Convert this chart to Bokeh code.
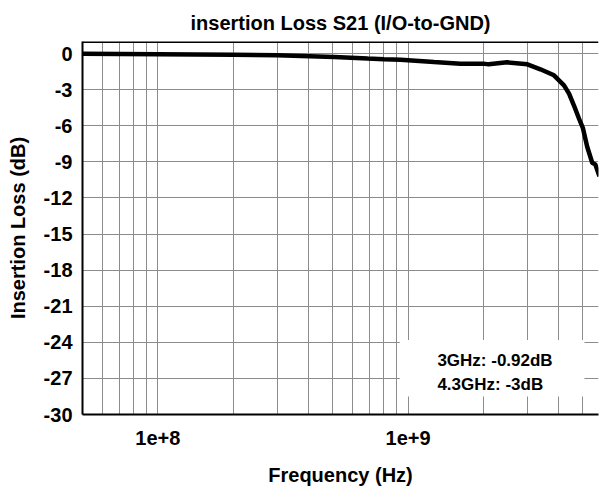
from bokeh.plotting import figure
from bokeh.models import FixedTicker, CustomJSTickFormatter, Span, BoxAnnotation, Label
from bokeh.embed import file_html
from bokeh.resources import INLINE

# ---- data ----
freq_hz = [5e7, 1e8, 2e8, 3e8, 5.07e8, 6.9e8, 8.0e8, 9.35e8, 1.0e9, 1.27e9, 1.62e9,
           2.0e9, 2.1e9, 2.49e9, 3.0e9, 3.38e9, 3.83e9, 4.2e9, 4.4e9, 4.6e9, 4.82e9,
           5.0e9, 5.2e9, 5.45e9, 5.6e9, 5.82e9]
loss_db = [-0.02, -0.05, -0.10, -0.15, -0.29, -0.42, -0.48, -0.51, -0.55, -0.70, -0.84,
           -0.84, -0.90, -0.73, -0.90, -1.31, -1.81, -2.64, -3.33, -4.3, -5.4,
           -6.2, -7.75, -9.1, -9.2, -10.2]
y_ticks = [-30, -27, -24, -21, -18, -15, -12, -9, -6, -3, 0]
x_major = [1e8, 1e9]
x_minor = [6e7, 7e7, 8e7, 9e7, 2e8, 3e8, 4e8, 5e8, 6e8, 7e8, 8e8, 9e8,
           2e9, 3e9, 4e9, 5e9]
note_lines = ["3GHz: -0.92dB", "4.3GHz: -3dB"]

FONT = "Liberation Sans"

p = figure(width=599, height=488, x_axis_type="log",
           x_range=(5e7, 5.77e9), y_range=(-30, 1),
           output_backend="svg", toolbar_location=None,
           title="insertion Loss S21 (I/O-to-GND)",
           min_border_left=82, min_border_right=1,
           min_border_top=41, min_border_bottom=73)

p.title.align = "center"
p.title.vertical_align = "bottom"
p.title.text_font = FONT
p.title.text_font_size = "20px"
p.title.text_font_style = "bold"
p.title.text_color = "black"
p.title.standoff = 15

p.outline_line_color = None
p.background_fill_color = "white"
p.border_fill_color = "white"

# axes
for ax in (p.xaxis[0], p.yaxis[0]):
    ax.axis_line_color = "black"
    ax.axis_line_width = 2
    ax.major_tick_out = 0
    ax.major_tick_in = 0
    ax.minor_tick_out = 0
    ax.minor_tick_in = 0
    ax.major_label_text_font = FONT
    ax.major_label_text_font_size = "20px"
    ax.major_label_text_font_style = "bold"
    ax.major_label_text_color = "black"
    ax.axis_label_text_font = FONT
    ax.axis_label_text_font_size = "20px"
    ax.axis_label_text_font_style = "bold"
    ax.axis_label_text_color = "black"

p.xaxis.ticker = FixedTicker(ticks=x_major, minor_ticks=x_minor)
p.xaxis.formatter = CustomJSTickFormatter(code="return tick.toExponential(0);")
p.xaxis.major_label_standoff = 16
p.xaxis.axis_label = "Frequency (Hz)"
p.xaxis.axis_label_standoff = 16

p.yaxis.ticker = FixedTicker(ticks=y_ticks)
p.yaxis.formatter = CustomJSTickFormatter(code="return tick.toString();")
p.yaxis.major_label_standoff = 10
p.yaxis.axis_label = "Insertion Loss (dB)"
p.yaxis.axis_label_standoff = 12

# grid
p.xgrid.grid_line_color = "#8c8c8c"
p.xgrid.grid_line_width = 1
p.xgrid.minor_grid_line_color = "#8c8c8c"
p.xgrid.minor_grid_line_width = 1
p.ygrid.grid_line_color = "#8c8c8c"
p.ygrid.grid_line_width = 1

# top frame line
p.add_layout(Span(location=1, dimension="width", line_color="black", line_width=3))

# curve
p.line(freq_hz, loss_db, line_color="black", line_width=4.5)

# annotation box
p.add_layout(BoxAnnotation(left=9.27e8, right=5.07e9, top=-23.8, bottom=-28.5,
                           fill_color="white", fill_alpha=1.0, line_color=None))
p.add_layout(Label(x=1.31e9, y=-24.75, text="\n".join(note_lines),
                   text_baseline="top", text_align="left",
                   text_font=FONT, text_font_size="17px", text_font_style="bold",
                   text_color="black", text_line_height=1.25))

open("out.html", "w").write(file_html(p, INLINE))
